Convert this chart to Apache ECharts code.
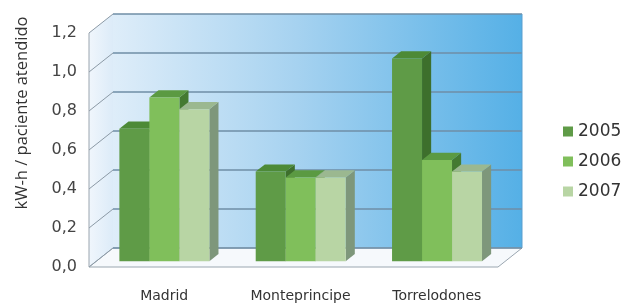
<!DOCTYPE html>
<html><head><meta charset="utf-8">
<script src="https://cdn.jsdelivr.net/npm/echarts@6/dist/echarts.min.js"></script>
<style>html,body{margin:0;padding:0;background:#fff}#c{width:628px;height:303px}</style>
</head><body><div id="c"></div>
<script>
var categories = ['Madrid', 'Monteprincipe', 'Torrelodones'];
var years = ['2005', '2006', '2007'];
var values2005 = [0.68, 0.46, 1.04];
var values2006 = [0.84, 0.43, 0.52];
var values2007 = [0.78, 0.43, 0.46];
var yTicks = [0, 0.2, 0.4, 0.6, 0.8, 1.0, 1.2];
var yAxisTitle = 'kW-h / paciente atendido';

var seriesValues = [values2005, values2006, values2007];
var faceColors = [
  {front: '#5f9b47', top: '#4d8a37', side: '#3d6f2c'},
  {front: '#80bf5b', top: '#5b9a42', side: '#447a31'},
  {front: '#b8d5a4', top: '#9bb890', side: '#7e977b'}
];
var DX = 24, DY = -19;
var D0 = 0.3, D1 = 0.68;

function renderWalls(params, api) {
  var cs = params.coordSys;
  var x0 = cs.x, y0 = cs.y, w = cs.width, h = cs.height;
  var yb = y0 + h;
  var kids = [];
  kids.push({type: 'polygon', shape: {points: [[x0, y0], [x0 + DX, y0 + DY], [x0 + DX, yb + DY], [x0, yb]]},
    style: {fill: new echarts.graphic.LinearGradient(0, 0, 1, 0, [{offset: 0, color: '#f0f6fc'}, {offset: 1, color: '#dcebf8'}])}});
  kids.push({type: 'rect', shape: {x: x0 + DX, y: y0 + DY, width: w, height: h},
    style: {fill: new echarts.graphic.LinearGradient(0, 0, 1, 0, [{offset: 0, color: '#deedf9'}, {offset: 0.45, color: '#a6d2f0'}, {offset: 1, color: '#55b0e6'}])}});
  kids.push({type: 'polygon', shape: {points: [[x0, yb], [x0 + DX, yb + DY], [x0 + w + DX, yb + DY], [x0 + w, yb]]},
    style: {fill: '#f6f9fc', stroke: '#9aa6b0', lineWidth: 1}});
  for (var i = 0; i < yTicks.length; i++) {
    var yy = api.coord([0, yTicks[i]])[1];
    kids.push({type: 'line', shape: {x1: x0 + DX, y1: yy + DY, x2: x0 + w + DX, y2: yy + DY},
      style: {stroke: '#6f8ea6', lineWidth: 1.6}});
    kids.push({type: 'line', shape: {x1: x0, y1: yy, x2: x0 + DX, y2: yy + DY},
      style: {stroke: '#8c9aa6', lineWidth: 1}});
  }
  kids.push({type: 'line', shape: {x1: x0, y1: y0, x2: x0, y2: yb}, style: {stroke: '#9aa4ae', lineWidth: 1}});
  kids.push({type: 'line', shape: {x1: x0 + w + DX, y1: y0 + DY, x2: x0 + w + DX, y2: yb + DY}, style: {stroke: '#5a9fcf', lineWidth: 1}});
  return {type: 'group', children: kids};
}

function makeBarRenderer(s) {
  return function (params, api) {
    var ci = api.value(0), v = api.value(1);
    var base = api.coord([ci, 0]);
    var top = api.coord([ci, v]);
    var bw = api.size([1, 0])[0] * 0.22;
    var left = base[0] - 1.5 * bw + s * bw + D0 * DX;
    var right = left + bw;
    var yT = top[1] + D0 * DY, yB = base[1] + D0 * DY;
    var ddx = (D1 - D0) * DX, ddy = (D1 - D0) * DY;
    var c = faceColors[s];
    return {type: 'group', children: [
      {type: 'polygon', shape: {points: [[right, yT], [right + ddx, yT + ddy], [right + ddx, yB + ddy], [right, yB]]}, style: {fill: c.side}},
      {type: 'polygon', shape: {points: [[left, yT], [left + ddx, yT + ddy], [right + ddx, yT + ddy], [right, yT]]}, style: {fill: c.top}},
      {type: 'rect', shape: {x: left, y: yT, width: bw, height: yB - yT}, style: {fill: c.front}}
    ]};
  };
}

var series = [{
  type: 'custom', name: 'walls', renderItem: renderWalls, data: [[0, 0]], silent: true, z: 1
}];
for (var s = 0; s < years.length; s++) {
  series.push({
    type: 'custom', name: years[s], z: 2,
    itemStyle: {color: faceColors[s].front},
    renderItem: makeBarRenderer(s),
    data: seriesValues[s].map(function (v, i) { return [i, v]; })
  });
}

var chart = echarts.init(document.getElementById('c'), null, {renderer: 'canvas'});
chart.setOption({
  animation: false,
  grid: {left: 89, top: 33, width: 409, height: 234},
  graphic: [{
    type: 'text', x: 22, y: 113, rotation: Math.PI / 2,
    style: {text: yAxisTitle, fontSize: 16.5, fill: '#333', fontFamily: 'Open Sans', align: 'center', verticalAlign: 'middle'}
  }],
  legend: {
    orient: 'vertical', left: 558, top: 118, itemWidth: 10, itemHeight: 10, itemGap: 13,
    icon: 'rect', data: years,
    textStyle: {fontSize: 17, color: '#333', fontFamily: 'DejaVu Sans'}
  },
  xAxis: {
    type: 'category', data: categories,
    axisLine: {show: false}, axisTick: {show: false},
    axisLabel: {margin: 22, fontSize: 14, color: '#333', fontFamily: 'DejaVu Sans', padding: [0, 0, 0, 14]}
  },
  yAxis: {
    type: 'value', min: 0, max: 1.2, interval: 0.2,
    axisLine: {show: false}, axisTick: {show: false}, splitLine: {show: false},
    axisLabel: {margin: 12, fontSize: 16, color: '#444', fontFamily: 'DejaVu Sans',
      formatter: function (v) { return v.toFixed(1).replace('.', ','); }}
  },
  series: series
});
</script></body></html>
